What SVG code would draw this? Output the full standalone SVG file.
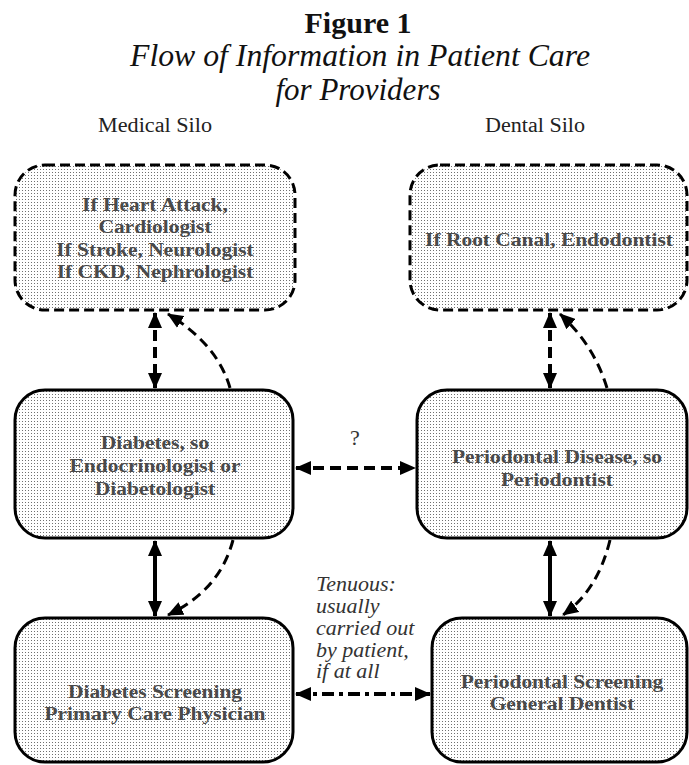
<svg xmlns="http://www.w3.org/2000/svg" width="689" height="765" viewBox="0 0 689 765">
<defs>
  <pattern id="dots" width="3" height="3" patternUnits="userSpaceOnUse">
    <rect width="3" height="3" fill="#ffffff"/>
    <rect x="1" y="1" width="1" height="1" fill="#707070"/>
  </pattern>
  <marker id="ah" viewBox="0 0 16 14" markerWidth="16" markerHeight="14" refX="15" refY="7" orient="auto-start-reverse" markerUnits="userSpaceOnUse">
    <path d="M0,0 L16,7 L0,14 z" fill="#000"/>
  </marker>
</defs>
<style>
  .title { font-family: "Liberation Serif", "Times New Roman", serif; fill: #111; text-anchor: middle; }
  .silo { font-family: "Liberation Serif", "Times New Roman", serif; font-size: 20px; fill: #222; text-anchor: middle; }
  .box { fill: url(#dots); stroke: #000; stroke-width: 3; }
  .dashbox { stroke-dasharray: 10 5; }
  .lbl { font-family: "Liberation Serif", "Times New Roman", serif; font-size: 19.5px; font-weight: bold; fill: #4a4a4a; text-anchor: middle; }
  .note { font-family: "Liberation Serif", "Times New Roman", serif; font-size: 20px; font-style: italic; fill: #333; }
  .q { font-family: "Liberation Serif", "Times New Roman", serif; font-size: 22px; fill: #333; text-anchor: middle; }
  .dash { fill: none; stroke: #000; stroke-width: 4; stroke-dasharray: 11 6; }
  .thin { fill: none; stroke: #000; stroke-width: 3; stroke-dasharray: 10 6; }
  .solid { fill: none; stroke: #000; stroke-width: 4; }
  .dashdot { fill: none; stroke: #000; stroke-width: 4; stroke-dasharray: 12 5 4 5; }
</style>

<g id="title">
  <text class="title" x="358" y="33" font-size="30" font-weight="bold" textLength="107" lengthAdjust="spacingAndGlyphs">Figure 1</text>
  <text class="title" x="360" y="66" font-size="31" font-style="italic" textLength="460" lengthAdjust="spacingAndGlyphs">Flow of Information in Patient Care</text>
  <text class="title" x="358" y="100" font-size="31" font-style="italic">for Providers</text>
  <text class="silo" x="155" y="132" textLength="114" lengthAdjust="spacingAndGlyphs">Medical Silo</text>
  <text class="silo" x="535" y="132" textLength="100" lengthAdjust="spacingAndGlyphs">Dental Silo</text>
</g>

<g id="n-specialists-medical">
  <rect class="box dashbox" x="15" y="165" width="280" height="145" rx="30"/>
  <g transform="matrix(1.1,0,0,1,-15.5,0)">
    <text class="lbl" x="155" y="211">If Heart Attack,</text>
    <text class="lbl" x="155" y="233">Cardiologist</text>
    <text class="lbl" x="155" y="256">If Stroke, Neurologist</text>
    <text class="lbl" x="155" y="278">If CKD, Nephrologist</text>
  </g>
</g>

<g id="n-endodontist">
  <rect class="box dashbox" x="410" y="165" width="277" height="145" rx="30"/>
  <g transform="matrix(1.1,0,0,1,-54.9,0)">
    <text class="lbl" x="549" y="246">If Root Canal, Endodontist</text>
  </g>
</g>

<g id="n-endocrinologist">
  <rect class="box" x="15" y="390" width="278" height="148" rx="30"/>
  <g transform="matrix(1.1,0,0,1,-15.5,0)">
    <text class="lbl" x="155" y="449">Diabetes, so</text>
    <text class="lbl" x="155" y="472">Endocrinologist or</text>
    <text class="lbl" x="155" y="495">Diabetologist</text>
  </g>
</g>

<g id="n-periodontist">
  <rect class="box" x="417" y="390" width="270" height="148" rx="30"/>
  <g transform="matrix(1.1,0,0,1,-55.7,0)">
    <text class="lbl" x="557" y="463">Periodontal Disease, so</text>
    <text class="lbl" x="557" y="486">Periodontist</text>
  </g>
</g>

<g id="n-pcp">
  <rect class="box" x="15" y="618" width="278" height="144" rx="30"/>
  <g transform="matrix(1.1,0,0,1,-15.5,0)">
    <text class="lbl" x="155" y="698">Diabetes Screening</text>
    <text class="lbl" x="155" y="720">Primary Care Physician</text>
  </g>
</g>

<g id="n-dentist">
  <rect class="box" x="432" y="618" width="255" height="144" rx="30"/>
  <g transform="matrix(1.1,0,0,1,-56.2,0)">
    <text class="lbl" x="562" y="688">Periodontal Screening</text>
    <text class="lbl" x="562" y="710">General Dentist</text>
  </g>
</g>

<g id="connectors">
  <line class="dash" x1="155" y1="313" x2="155" y2="388" marker-start="url(#ah)" marker-end="url(#ah)"/>
  <path class="thin" d="M230,388 Q218,345 168,314" marker-end="url(#ah)"/>
  <line class="dash" x1="550" y1="313" x2="550" y2="388" marker-start="url(#ah)" marker-end="url(#ah)"/>
  <path class="thin" d="M607,388 Q594,345 560,314" marker-end="url(#ah)"/>
  <line class="solid" x1="155" y1="541" x2="155" y2="616" marker-start="url(#ah)" marker-end="url(#ah)"/>
  <path class="thin" d="M233,540 Q220,590 168,615" marker-end="url(#ah)"/>
  <line class="solid" x1="550" y1="541" x2="550" y2="616" marker-start="url(#ah)" marker-end="url(#ah)"/>
  <path class="thin" d="M610,540 Q598,590 563,615" marker-end="url(#ah)"/>
  <line class="dash" x1="296" y1="468" x2="415" y2="468" marker-start="url(#ah)" marker-end="url(#ah)"/>
  <line class="dashdot" x1="296" y1="694" x2="430" y2="694" marker-start="url(#ah)" marker-end="url(#ah)"/>
  <text class="q" x="355" y="445">?</text>
  <g transform="matrix(1.1,0,0,1,-31.6,0)">
    <text class="note" x="316" y="591">Tenuous:</text>
    <text class="note" x="316" y="613">usually</text>
    <text class="note" x="316" y="635">carried out</text>
    <text class="note" x="316" y="657">by patient,</text>
    <text class="note" x="316" y="678">if at all</text>
  </g>
</g>
</svg>
